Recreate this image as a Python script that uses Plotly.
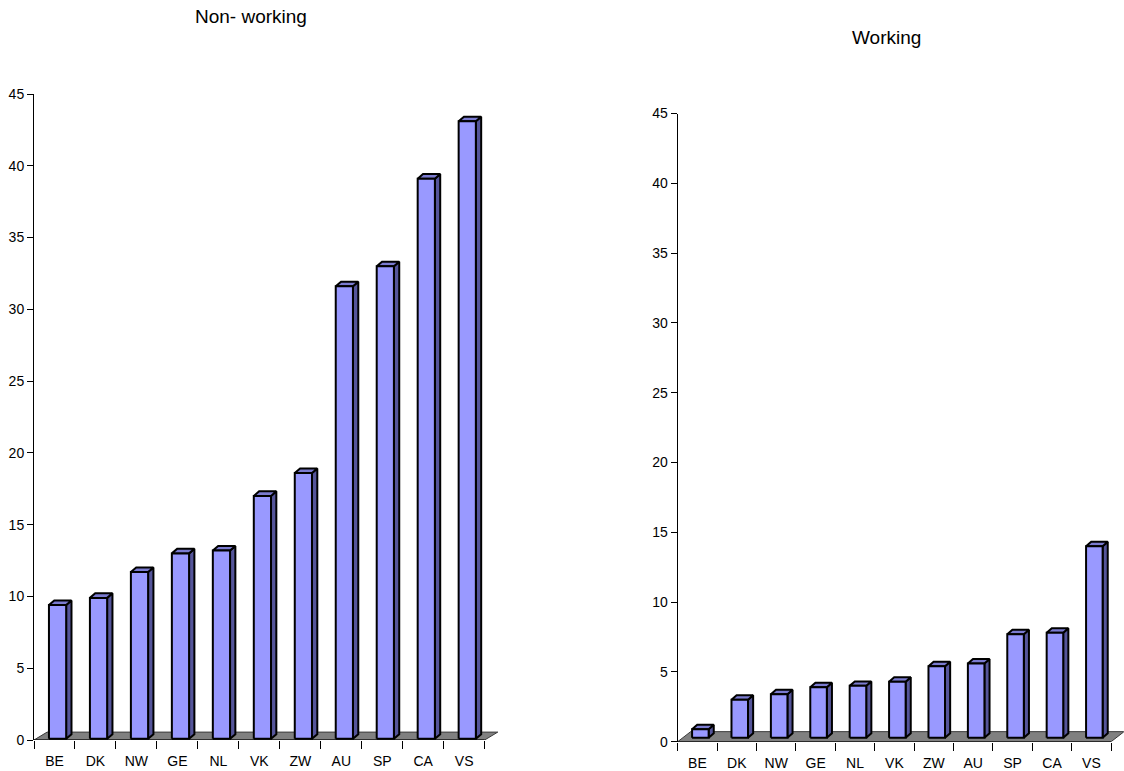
import plotly.graph_objects as go

# ---- data ----
categories = ["BE", "DK", "NW", "GE", "NL", "VK", "ZW", "AU", "SP", "CA", "VS"]
non_working = [9.4, 9.9, 11.7, 13.0, 13.2, 17.0, 18.6, 31.6, 33.0, 39.1, 43.1]
working = [0.9, 3.0, 3.4, 3.9, 4.0, 4.3, 5.4, 5.6, 7.7, 7.8, 14.0]
titles = ["Non- working", "Working"]
y_ticks = list(range(0, 50, 5))

# ---- style ----
W, H = 1124, 771
FONT = "Liberation Sans, Arial, sans-serif"
FRONT = "#9999FF"
SIDE = "#55559A"
TOP = "#7B7BD0"
FLOOR = "#808080"
EDGE = "#000000"
BAR_W = 0.42      # front width (category units)
SHIFT = 0.075     # front face offset to the right
DX = 0.13         # 3D depth, x (category units)
DY = 0.32         # 3D depth, y (value units)

panels = [
    dict(vals=non_working, title=titles[0], xs="x", ys="y",
         xpx=(34.0, 499.0), ypx=(740.0, 94.0), xmax=10.85,
         base=0.08, fdx=0.32, fdy=0.55, title_px=(251, 16)),
    dict(vals=working, title=titles[1], xs="x2", ys="y2",
         xpx=(677.7, 1123.7), ypx=(741.7, 113.5), xmax=10.82,
         base=0.28, fdx=0.33, fdy=0.72, title_px=(886, 37)),
]

fig = go.Figure()
n = len(categories)

for p in panels:
    vals = p["vals"]
    b = p["base"]
    # floor
    fx = [-0.5, n - 0.5, n - 0.5 + p["fdx"], -0.5 + p["fdx"], -0.5]
    fy = [0, 0, p["fdy"], p["fdy"], 0]
    fig.add_trace(go.Scatter(x=fx, y=fy, xaxis=p["xs"], yaxis=p["ys"], mode="lines",
                             fill="toself", fillcolor=FLOOR,
                             line=dict(color="#3a3a3a", width=1),
                             hoverinfo="skip", showlegend=False))
    sx, sy, tx, ty, frx, fry = [], [], [], [], [], []
    for i, v in enumerate(vals):
        xl = i - BAR_W / 2 + SHIFT
        xr = i + BAR_W / 2 + SHIFT
        # side face
        sx += [xr, xr + DX, xr + DX, xr, xr, None]
        sy += [b, b + DY, v + DY, v, b, None]
        # top face
        tx += [xl, xr, xr + DX, xl + DX, xl, None]
        ty += [v, v, v + DY, v + DY, v, None]
        # front face
        frx += [xl, xr, xr, xl, xl, None]
        fry += [b, b, v, v, b, None]
    for xx, yy, col in ((sx, sy, SIDE), (tx, ty, TOP), (frx, fry, FRONT)):
        fig.add_trace(go.Scatter(x=xx, y=yy, xaxis=p["xs"], yaxis=p["ys"], mode="lines",
                                 fill="toself", fillcolor=col,
                                 line=dict(color=EDGE, width=2),
                                 hoverinfo="skip", showlegend=False))
    # x axis line (category span)
    fig.add_trace(go.Scatter(x=[-0.5, n - 0.5], y=[0, 0], xaxis=p["xs"], yaxis=p["ys"],
                             mode="lines", line=dict(color="black", width=1),
                             hoverinfo="skip", showlegend=False))

    xname = "xaxis" if p["xs"] == "x" else "xaxis2"
    yname = "yaxis" if p["ys"] == "y" else "yaxis2"
    x0, x1 = p["xpx"]
    y0, y1 = p["ypx"]
    fig.update_layout({
        xname: dict(domain=[x0 / W, x1 / W], range=[-0.5, p["xmax"]], anchor=p["ys"],
                    automargin=False,
                    showgrid=False, zeroline=False, showline=False,
                    tickmode="array", tickvals=list(range(n)), ticktext=categories,
                    ticks="outside", ticklen=8, tickcolor="rgba(0,0,0,0)",
                    tickfont=dict(family=FONT, size=14, color="black"),
                    minor=dict(tickmode="array", tickvals=[i - 0.5 for i in range(n + 1)],
                               ticks="outside", ticklen=8, tickcolor="black",
                               tickwidth=1, showgrid=False),
                    fixedrange=True),
        yname: dict(domain=[1 - y0 / H, 1 - y1 / H], range=[0, 45], anchor=p["xs"],
                    automargin=False,
                    showgrid=False, zeroline=False, showline=True,
                    linecolor="black", linewidth=1,
                    tickmode="array", tickvals=y_ticks,
                    ticks="outside", ticklen=6, tickcolor="black",
                    tickfont=dict(family=FONT, size=14, color="black"),
                    fixedrange=True),
    })
    fig.add_annotation(text=p["title"], xref="paper", yref="paper",
                       x=p["title_px"][0] / W, y=1 - p["title_px"][1] / H,
                       xanchor="center", yanchor="middle", showarrow=False,
                       font=dict(family=FONT, size=19, color="black"))

fig.update_layout(width=W, height=H, margin=dict(l=0, r=0, t=0, b=0, autoexpand=False),
                  paper_bgcolor="white", plot_bgcolor="white", showlegend=False)

fig.write_html("out.html")
